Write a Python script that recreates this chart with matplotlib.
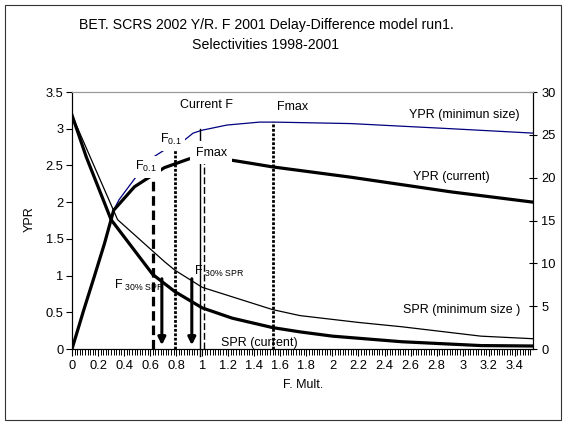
import numpy as np
import matplotlib.pyplot as plt
from matplotlib.patches import Rectangle

plt.rcParams['font.family'] = ['Liberation Sans', 'DejaVu Sans']
plt.rcParams['mathtext.fontset'] = 'custom'
plt.rcParams['mathtext.rm'] = 'Liberation Sans'
plt.rcParams['mathtext.default'] = 'regular'

# YPR, left axis
f_ypr_cur = [0, 0.09, 0.17, 0.25, 0.32, 0.39, 0.48, 0.62, 0.71, 0.90, 1.0, 1.23, 1.37, 1.54, 2.14, 2.91, 3.54]
ypr_cur = [0, 0.53, 0.98, 1.44, 1.89, 2.03, 2.21, 2.37, 2.47, 2.59, 2.60, 2.57, 2.53, 2.48, 2.34, 2.14, 2.0]

f_ypr_min = [0, 0.09, 0.17, 0.25, 0.32, 0.36, 0.49, 0.63, 0.71, 0.79, 0.93, 1.0, 1.19, 1.44, 1.55, 2.14, 2.91, 3.54]
ypr_min = [0, 0.53, 0.98, 1.44, 1.89, 2.03, 2.34, 2.62, 2.71, 2.74, 2.94, 2.98, 3.05, 3.09, 3.09, 3.07, 3.0, 2.94]

# SPR, right axis
f_spr_cur = [0, 0.11, 0.30, 0.62, 0.79, 1.0, 1.23, 1.54, 1.75, 2.0, 2.53, 3.14, 3.54]
spr_cur = [27.3, 22.4, 15.1, 8.7, 6.7, 4.8, 3.6, 2.5, 2.0, 1.5, 0.85, 0.4, 0.35]

f_spr_min = [0, 0.14, 0.35, 0.71, 0.79, 1.0, 1.54, 1.75, 2.2, 2.53, 3.14, 3.54]
spr_min = [27.3, 22.4, 15.1, 10.2, 9.2, 7.2, 4.6, 3.9, 3.1, 2.6, 1.5, 1.2]

# reference points: F0.1 cur, F0.1 min, current F, Fmax cur, Fmax min
ref_f = [0.62, 0.79, 0.98, 1.01, 1.54]
ref_top = [2.37, 2.74, 3.0, 2.55, 3.09]
ref_bot = [0, 0, -0.1, 0, 0]

# F30%SPR (current, minimum size) and the 30% SPR level
f30 = [0.69, 0.92]
spr30 = 8.2

xticks = np.arange(0, 3.41, 0.2)

fig = plt.figure(figsize=(5.66, 4.23), dpi=100)
fig.patches.append(Rectangle((5/566, 3/423), 556/566, 415/423, transform=fig.transFigure,
                             fill=False, edgecolor='#333333', lw=0.8))
ax = fig.add_axes([72/566, 1-349/423, 461/566, 257/423])
ax2 = ax.twinx()

ax.plot(f_ypr_min, ypr_min, color='#000080', lw=0.9, zorder=2)
ax.plot(f_ypr_cur, ypr_cur, color='black', lw=2.3, zorder=3)
ax2.plot(f_spr_min, spr_min, color='black', lw=0.9)
ax2.plot(f_spr_cur, spr_cur, color='black', lw=2.3)

styles = [dict(ls=(0, (3, 1.5)), lw=2.3), dict(ls=(0, (1, 0.6)), lw=2.0),
          dict(ls='-', lw=1.0), dict(ls=(0, (5, 2)), lw=1.0), dict(ls=(0, (1, 0.6)), lw=2.0)]
for f, top, bot, st in zip(ref_f, ref_top, ref_bot, styles):
    ax.plot([f, f], [bot, top], color='black', clip_on=False, zorder=4, **st)

for f in f30:
    ax2.annotate('', xy=(f, 0.45), xytext=(f, spr30),
                 arrowprops=dict(arrowstyle='-|>', lw=2.2, color='black', mutation_scale=11,
                                 shrinkA=0, shrinkB=0))

ax.set_xlim(0, 3.54)
ax.set_ylim(0, 3.5)
ax2.set_ylim(0, 30)
ax.set_xticks(xticks)
ax.set_xticklabels(['%g' % round(v, 1) for v in xticks])
ax.set_xticks(np.arange(0, 3.54, 0.02), minor=True)
ax.set_yticks(np.arange(0, 3.51, 0.5))
ax.set_yticklabels(['%g' % v for v in np.arange(0, 3.51, 0.5)])
ax2.set_yticks(np.arange(0, 31, 5))

ax.tick_params(axis='x', which='major', direction='out', length=5, width=0.8, pad=3, labelsize=9.3)
ax.tick_params(axis='x', which='minor', direction='out', length=4, width=0.7)
ax.tick_params(axis='y', direction='out', length=4, width=0.8, pad=2, labelsize=9.3)
ax2.tick_params(axis='y', direction='inout', length=6, width=0.8, pad=3, labelsize=9.3)
for a in (ax, ax2):
    a.spines['top'].set_color('#999999')
    a.spines['top'].set_linewidth(0.8)
    a.patch.set_alpha(0)

tr = ax.transData
box = dict(facecolor='white', edgecolor='none', pad=2.5)
ax2.text(0.57, 2.48, 'F$_{0.1}$', transform=tr, ha='center', va='center', fontsize=9, bbox=box, zorder=6)
ax2.text(0.76, 2.85, 'F$_{0.1}$', transform=tr, ha='center', va='center', fontsize=9, bbox=box, zorder=6)
ax2.text(1.07, 2.67, 'Fmax', transform=tr, ha='center', va='center', fontsize=9,
         bbox=dict(facecolor='white', edgecolor='none', pad=4), zorder=6)
ax2.text(1.03, 3.32, 'Current F', transform=tr, ha='center', va='center', fontsize=9)
ax2.text(1.69, 3.30, 'Fmax', transform=tr, ha='center', va='center', fontsize=9)
ax2.text(3.01, 3.19, 'YPR (minimun size)', transform=tr, ha='center', va='center', fontsize=9)
ax2.text(2.91, 2.34, 'YPR (current)', transform=tr, ha='center', va='center', fontsize=9)
ax2.text(2.99, 0.53, 'SPR (minimum size )', transform=tr, ha='center', va='center', fontsize=9)
ax2.text(1.44, 0.08, 'SPR (current)', transform=tr, ha='center', va='center', fontsize=9)
ax2.text(0.32, 0.87, r'F$_{\ 30\%\ SPR}$', transform=tr, ha='left', va='center', fontsize=9)
ax2.text(0.94, 1.06, r'F$_{\ 30\%\ SPR}$', transform=tr, ha='left', va='center', fontsize=9)

fig.text(266/566, 1-35/423, 'BET. SCRS 2002 Y/R. F 2001 Delay-Difference model run1.\nSelectivities 1998-2001',
         ha='center', va='center', fontsize=10.2, linespacing=1.6)
fig.text(30/566, 1-219/423, 'YPR', rotation=90, ha='center', va='center', fontsize=9)
fig.text(303/566, 1-385/423, 'F. Mult.', ha='center', va='center', fontsize=9)

plt.savefig('out.png', dpi=100)
